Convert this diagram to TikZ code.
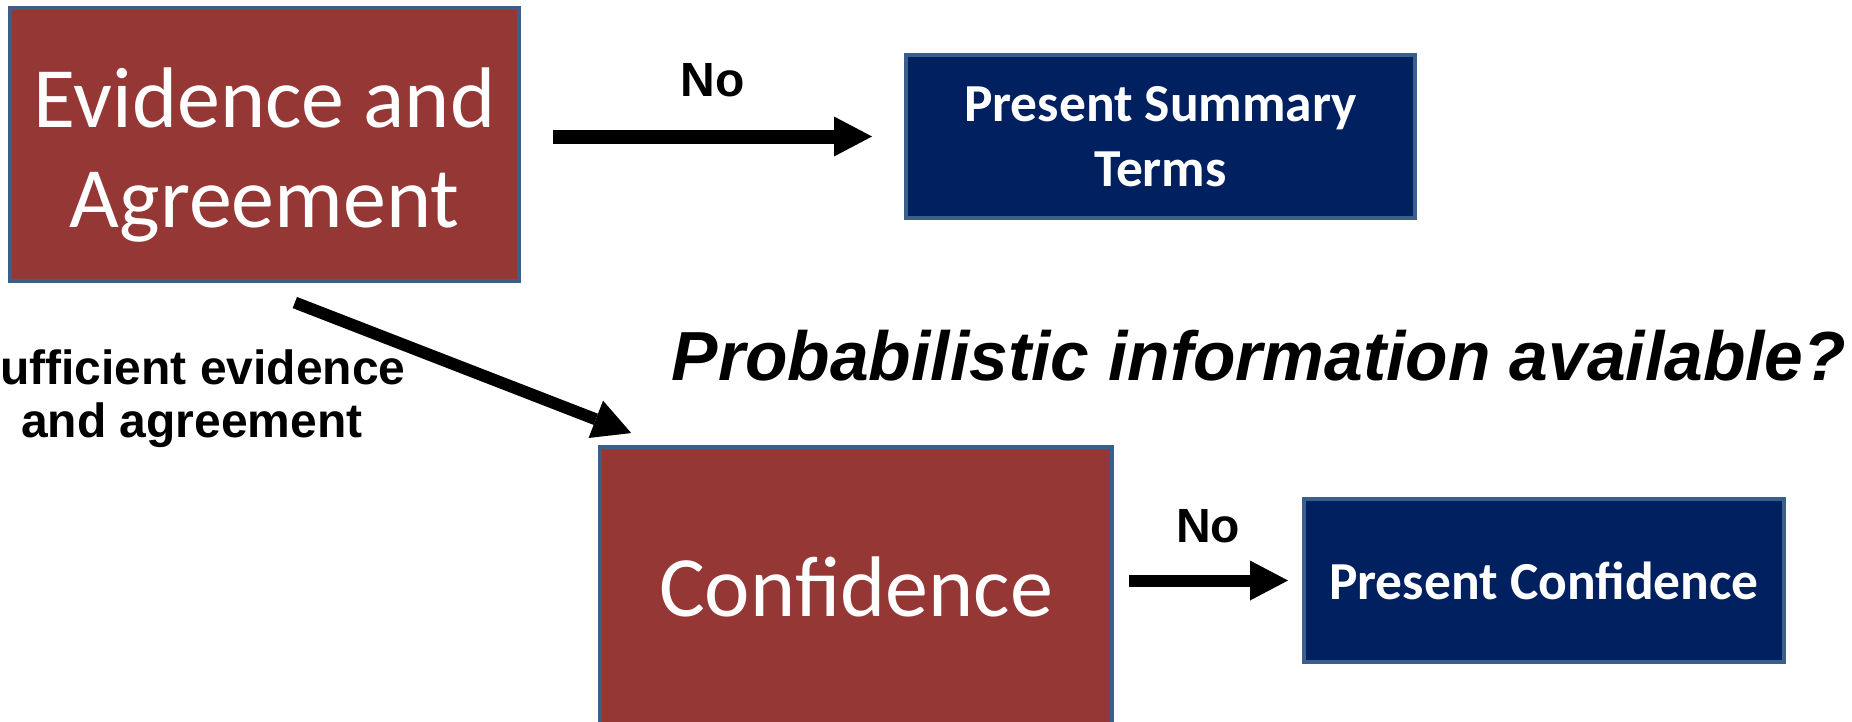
\documentclass[tikz,border=0pt]{standalone}
\usepackage{fontspec}
\setmainfont{Carlito}
\newfontfamily\arialfont{Liberation Sans}
\usetikzlibrary{arrows.meta}
\definecolor{boxred}{HTML}{953735}
\definecolor{boxnavy}{HTML}{002060}
\definecolor{boxedge}{HTML}{3A5F8B}
\tikzstyle{mainbox}=[draw=boxedge, line width=4pt, fill=boxred, text=white, align=center, inner sep=0pt, font=\fontsize{86}{100}\selectfont]
\tikzstyle{resultbox}=[draw=boxedge, line width=4pt, fill=boxnavy, text=white, align=center, inner sep=0pt, font=\bfseries\fontsize{53.5}{65}\selectfont]
\tikzstyle{bigarrow}=[black, line width=14pt, -{Triangle[length=38pt,width=40pt,line width=0pt]}]
\tikzstyle{answer}=[inner sep=0pt, text=black, font=\arialfont\bfseries\fontsize{48}{56}\selectfont]
\begin{document}
\begin{tikzpicture}[x=1pt, y=-1pt]
\useasboundingbox (0,0) rectangle (1852,721);
\node[mainbox, minimum width=509pt, minimum height=273pt] (evagr) at (264.5,144.5) {\rule{0pt}{80pt}Evidence and\\Agreement};
\node[resultbox, minimum width=509pt, minimum height=163pt] (summary) at (1160.5,136.5) {Present Summary\\Terms};
\node[mainbox, minimum width=512pt, minimum height=280pt] (conf) at (856,587) {Confidence};
\node[resultbox, minimum width=480pt, minimum height=163pt] (presconf) at (1544,580.5) {Present Confidence};
\node[anchor=base, inner sep=0pt, font=\arialfont\bfseries\itshape\fontsize{69.5}{80}\selectfont] (question) at (1259,380) {Probabilistic information available?};
\node[answer, anchor=base west] (suff1) at (0,384) {ufficient evidence};
\node[answer, anchor=base] (suff2) at (192,437) {and agreement};
\draw[bigarrow, shorten <=32pt, shorten >=32pt] (evagr.east |- summary.west) -- node[answer, above=33pt] (no1) {No} (summary.west);
\draw[bigarrow, line width=12pt, shorten <=15pt, shorten >=14pt] (conf.east |- presconf.west) -- node[answer, above=32pt] (no2) {No} (presconf.west);
\draw[bigarrow, line width=12pt, shorten <=54pt, shorten >=33pt] ([xshift=-20pt]evagr.south) -- ([xshift=64pt]conf.north west);
\end{tikzpicture}
\end{document}
